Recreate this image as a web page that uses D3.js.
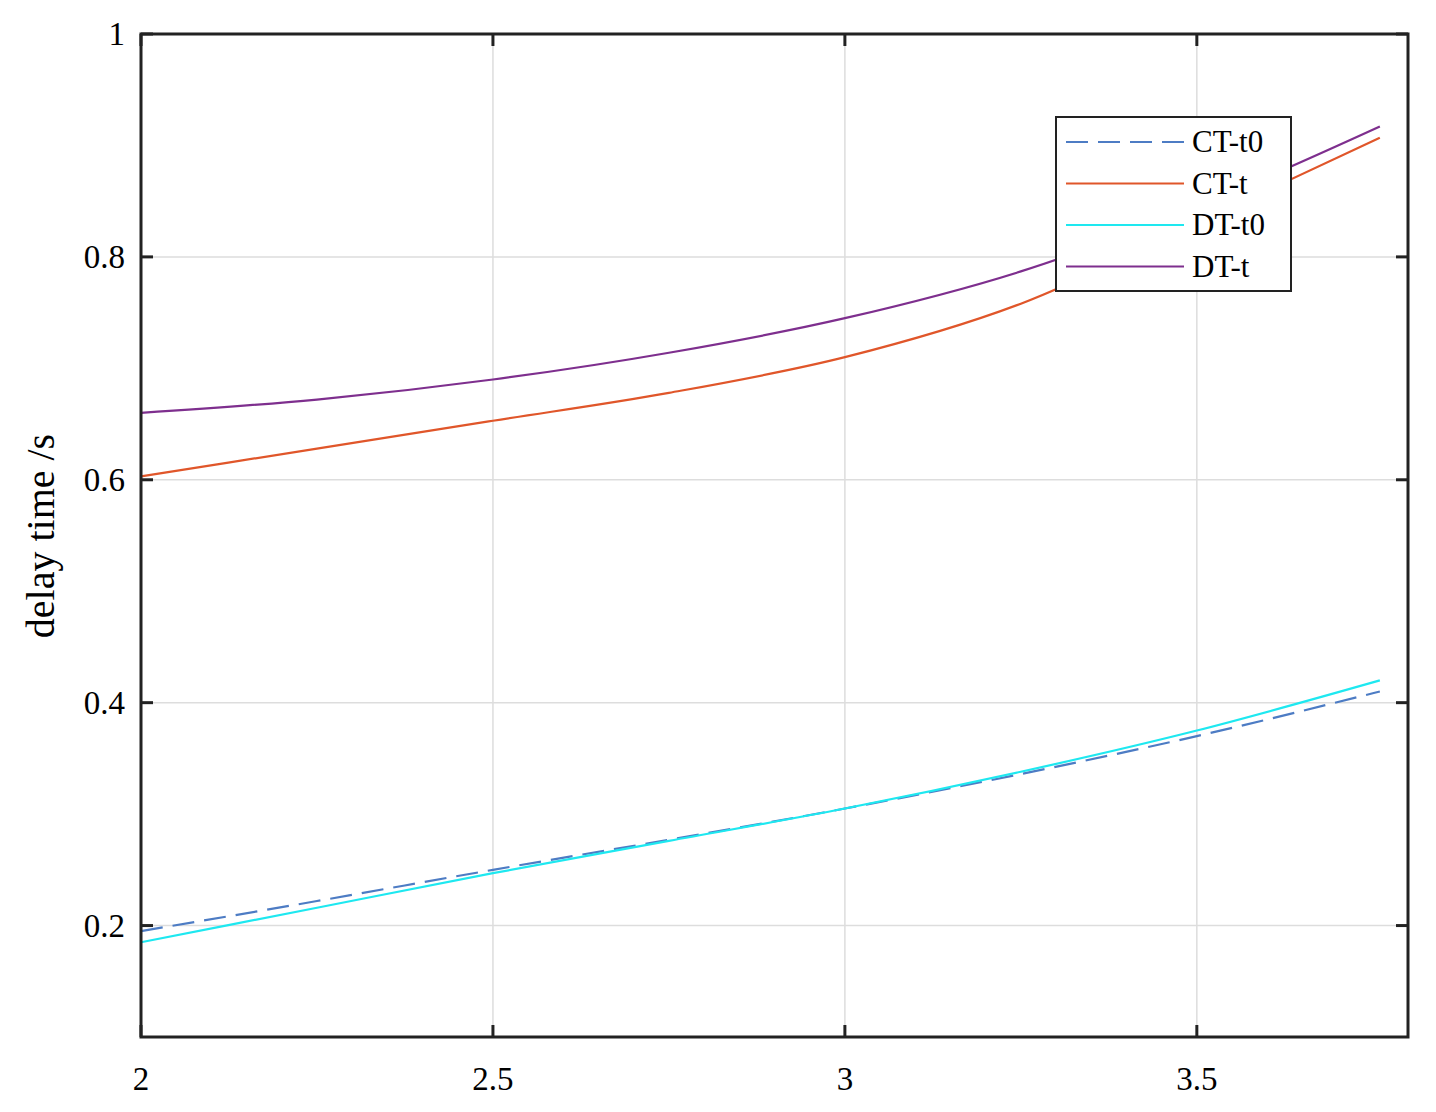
<!DOCTYPE html><html><head><script src="https://cdn.jsdelivr.net/npm/d3@7"></script>
<style>body{margin:0;background:#fff}text{font-family:"Liberation Serif",serif}</style></head><body>
<svg id="c" width="1436" height="1112"></svg>
<script>
const xs=[2,2.25,2.5,2.75,3,3.25,3.5,3.76];
const ctT0=[0.195,0.222,0.25,0.277,0.305,0.336,0.37,0.41];
const ctT=[0.603,0.628,0.653,0.678,0.71,0.758,0.83,0.907];
const dtT0=[0.185,0.216,0.247,0.276,0.305,0.338,0.375,0.42];
const dtT=[0.66,0.672,0.69,0.714,0.745,0.787,0.845,0.917];
const xTicks=[2,2.5,3,3.5], yTicks=[0.2,0.4,0.6,0.8,1];
const series=[{n:"CT-t0",v:ctT0,c:"#4d7cc4",d:"22,10"},{n:"CT-t",v:ctT,c:"#e0562a",d:null},{n:"DT-t0",v:dtT0,c:"#1ee8f0",d:null},{n:"DT-t",v:dtT,c:"#7e2f8e",d:null}];
const L=141,R=1408,T=34,B=1037;
const x=d3.scaleLinear().domain([2,3.8]).range([L,R]);
const y=d3.scaleLinear().domain([0.1,1]).range([B,T]);
const s=d3.select("#c");
s.append("g").selectAll("line").data(xTicks.slice(1)).join("line").attr("x1",x).attr("x2",x).attr("y1",T).attr("y2",B).attr("stroke","#ddd").attr("stroke-width",1.5);
s.append("g").selectAll("line").data(yTicks.slice(0,4)).join("line").attr("y1",y).attr("y2",y).attr("x1",L).attr("x2",R).attr("stroke","#ddd").attr("stroke-width",1.5);
const line=d3.line().x((d,i)=>x(xs[i])).y(d=>y(d)).curve(d3.curveMonotoneX);
series.forEach(S=>s.append("path").attr("d",line(S.v)).attr("fill","none").attr("stroke",S.c).attr("stroke-width",2.2).attr("stroke-dasharray",S.d));
s.append("rect").attr("x",L).attr("y",T).attr("width",R-L).attr("height",B-T).attr("fill","none").attr("stroke","#222").attr("stroke-width",3);
const ax=s.append("g");
xTicks.forEach(t=>{ax.append("line").attr("x1",x(t)).attr("x2",x(t)).attr("y1",B).attr("y2",B-12).attr("stroke","#222").attr("stroke-width",3);
ax.append("line").attr("x1",x(t)).attr("x2",x(t)).attr("y1",T).attr("y2",T+12).attr("stroke","#222").attr("stroke-width",3);
ax.append("text").attr("x",x(t)).attr("y",1090).attr("text-anchor","middle").attr("font-size",33).text(t);});
yTicks.forEach(t=>{ax.append("line").attr("x1",L).attr("x2",L+12).attr("y1",y(t)).attr("y2",y(t)).attr("stroke","#222").attr("stroke-width",3);
ax.append("line").attr("x1",R).attr("x2",R-12).attr("y1",y(t)).attr("y2",y(t)).attr("stroke","#222").attr("stroke-width",3);
ax.append("text").attr("x",125).attr("y",y(t)+11).attr("text-anchor","end").attr("font-size",33).text(t);});
s.append("text").attr("transform","translate(54,536) rotate(-90)").attr("text-anchor","middle").attr("font-size",40).text("delay time /s");
const lg=s.append("g");
lg.append("rect").attr("x",1056).attr("y",117).attr("width",235).attr("height",174).attr("fill","#fff").attr("stroke","#222").attr("stroke-width",2);
series.forEach((S,i)=>{const yy=142+i*41.5;
lg.append("line").attr("x1",1066).attr("x2",1184).attr("y1",yy).attr("y2",yy).attr("stroke",S.c).attr("stroke-width",2.2).attr("stroke-dasharray",S.d);
lg.append("text").attr("x",1192).attr("y",yy+10).attr("font-size",31).text(S.n);});
</script></body></html>
